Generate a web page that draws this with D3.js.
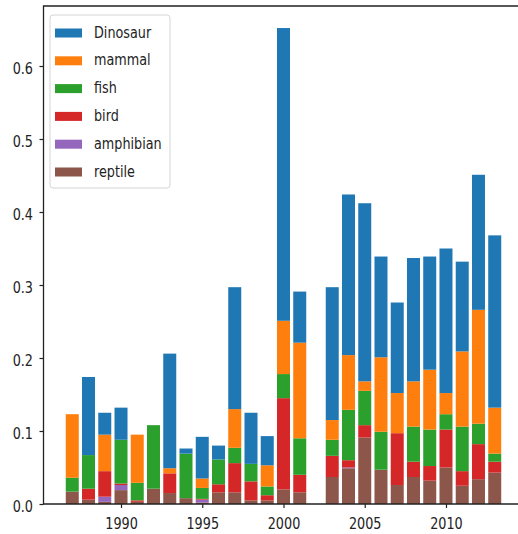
<!DOCTYPE html>
<html>
<head>
<meta charset="utf-8">
<title>stacked bars</title>
<script src="https://cdn.jsdelivr.net/npm/d3@7"></script>
<style>
  body { margin: 0; background: #fff; }
  text { font-family: "DejaVu Sans", sans-serif; font-size: 16px; fill: #222; }
</style>
</head>
<body>
<script>
// years on the x axis (2002 has no bar)
var years = [1987,1988,1989,1990,1991,1992,1993,1994,1995,1996,1997,1998,1999,2000,2001,
             2003,2004,2005,2006,2007,2008,2009,2010,2011,2012,2013];

// one array per category, same order as years
var reptile   = [.017,.006,.003,.019,.003,.021,.015,.008,.002,.016,.016,.005,.005,.020,.016,
                 .037,.049,.091,.047,.026,.037,.032,.050,.025,.034,.043];
var amphibian = [0,0,.007,.007,0,0,0,0,.004,0,0,0,0,0,0,
                 0,.001,0,0,0,0,0,0,0,0,0];
var bird      = [0,.015,.035,.002,.002,0,.027,0,.001,.011,.040,.026,.007,.125,.024,
                 .029,.010,.017,0,.071,.021,.020,.052,.020,.048,.015];
var fish      = [.019,.046,0,.060,.024,.087,0,.061,.015,.034,.021,.024,.012,.033,.050,
                 .022,.069,.047,.052,0,.048,.050,.021,.061,.028,.011];
var mammal    = [.087,0,.050,0,.066,0,.007,0,.013,0,.053,0,.029,.073,.131,
                 .027,.075,.013,.102,.055,.062,.082,.029,.103,.156,.063];
var dinosaur  = [0,.107,.030,.044,0,0,.157,.007,.057,.019,.167,.070,.040,.401,.070,
                 .182,.220,.244,.138,.124,.169,.155,.198,.123,.185,.236];

var legendNames = ["Dinosaur","mammal","fish","bird","amphibian","reptile"];
var yTicks = [0,0.1,0.2,0.3,0.4,0.5,0.6];
var xTicks = [1990,1995,2000,2005,2010];

var colors = {
  Dinosaur: "#1f77b4", mammal: "#ff7f0e", fish: "#2ca02c",
  bird: "#d62728", amphibian: "#9467bd", reptile: "#8c564b"
};

// build rows for d3.stack
var rows = years.map(function (y, i) {
  return { year: y, reptile: reptile[i], amphibian: amphibian[i], bird: bird[i],
           fish: fish[i], mammal: mammal[i], Dinosaur: dinosaur[i] };
});
var keys = ["reptile","amphibian","bird","fish","mammal","Dinosaur"];
var series = d3.stack().keys(keys)(rows);

var W = 518, H = 534;
var padL = 43.5, padT = 6, padB = 504, padR = 523;
var sx = 0.8; // text is drawn horizontally squeezed

var x = d3.scaleLinear().domain([1985.23, 2014.74]).range([padL, padR]);
var y = d3.scaleLinear().domain([0, 0.6822]).range([padB, padT]);
var barW = x(1987.8) - x(1987);

var svg = d3.select("body").append("svg").attr("width", W).attr("height", H);

svg.append("g").selectAll("g")
  .data(series)
  .enter().append("g")
  .attr("fill", function (s) { return colors[s.key]; })
  .selectAll("rect")
  .data(function (s) { return s; })
  .enter().append("rect")
  .attr("x", function (d) { return x(d.data.year) - barW / 2; })
  .attr("width", barW)
  .attr("y", function (d) { return y(d[1]); })
  .attr("height", function (d) { return y(d[0]) - y(d[1]); });

// axes
var yAxis = svg.append("g")
  .attr("transform", "translate(" + padL + ",0)")
  .call(d3.axisLeft(y).tickValues(yTicks).tickFormat(d3.format(".1f")).tickSize(4).tickSizeOuter(0));
yAxis.select(".domain").remove();
yAxis.selectAll("line").attr("stroke", "#222").attr("stroke-width", 1.2);
yAxis.selectAll("text")
  .attr("x", -10.5 / sx).attr("dy", "0.45em")
  .attr("transform", "scale(" + sx + ",1)")
  .attr("font-size", 16).attr("font-family", "DejaVu Sans").attr("fill", "#222");

var xAxis = svg.append("g")
  .attr("transform", "translate(0," + padB + ")")
  .call(d3.axisBottom(x).tickValues(xTicks).tickFormat(d3.format("d")).tickSize(4).tickSizeOuter(0));
xAxis.select(".domain").remove();
xAxis.selectAll("line").attr("stroke", "#222").attr("stroke-width", 1.2);
xAxis.selectAll("text")
  .attr("y", 14).attr("dy", "0.71em")
  .attr("transform", "scale(" + sx + ",1)")
  .attr("font-size", 16).attr("font-family", "DejaVu Sans").attr("fill", "#222");

// spines
svg.append("path")
  .attr("d", "M" + padR + "," + padT + "H" + padL + "V" + padB + "H" + padR)
  .attr("fill", "none").attr("stroke", "#222").attr("stroke-width", 1.3);

// legend
var lg = svg.append("g");
lg.append("rect")
  .attr("x", 50).attr("y", 15).attr("width", 120).attr("height", 173).attr("rx", 3)
  .attr("fill", "#fff").attr("fill-opacity", 0.8).attr("stroke", "#d4d4d4");
var item = lg.selectAll("g.item")
  .data(legendNames)
  .enter().append("g")
  .attr("class", "item")
  .attr("transform", function (d, i) { return "translate(0," + (33 + i * 27.8) + ")"; });
item.append("rect")
  .attr("x", 55).attr("y", -4.5).attr("width", 27).attr("height", 9)
  .attr("fill", function (d) { return colors[d]; });
item.append("text")
  .attr("x", 94 / sx).attr("y", 4.5)
  .attr("transform", "scale(" + sx + ",1)")
  .text(function (d) { return d; });
</script>
</body>
</html>
